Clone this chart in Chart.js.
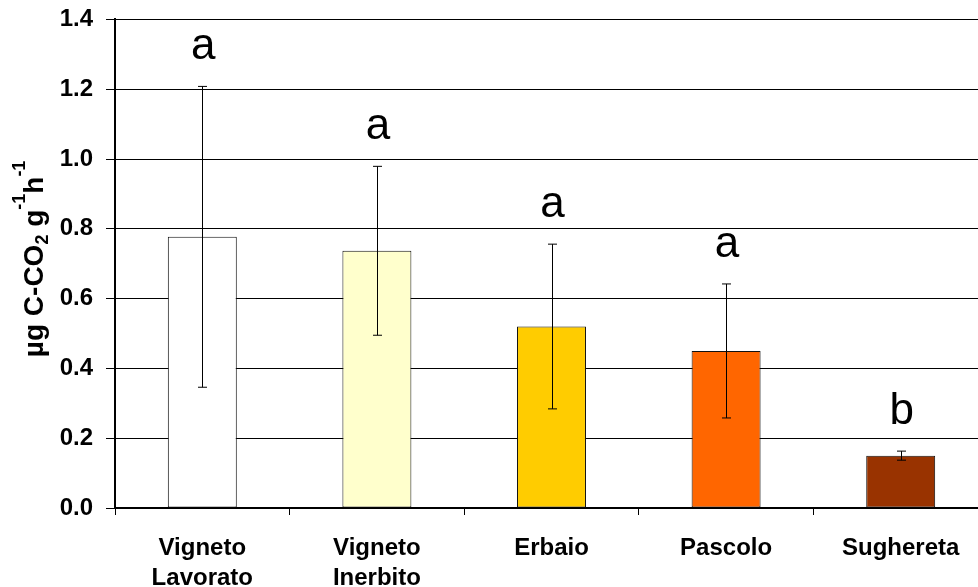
<!DOCTYPE html>
<html>
<head>
<meta charset="utf-8">
<script src="https://cdn.jsdelivr.net/npm/chart.js@4/dist/chart.umd.min.js"></script>
<style>
  html, body { margin: 0; padding: 0; background: #fff; overflow: hidden; }
  #wrap { width: 990px; height: 595px; margin-top: -8px; }
</style>
</head>
<body>
<div id="wrap"><canvas id="c" width="990" height="595"></canvas></div>
<script>
// Soil respiration by land use
const categories = [['Vigneto', 'Lavorato'], ['Vigneto', 'Inerbito'], 'Erbaio', 'Pascolo', 'Sughereta'];
const respiration = [0.777, 0.737, 0.52, 0.45, 0.15];
const stdError = [0.431, 0.242, 0.236, 0.192, 0.013];
const groupLetters = ['a', 'a', 'a', 'a', 'b'];
const yTicks = [0, 0.2, 0.4, 0.6, 0.8, 1.0, 1.2, 1.4];
const barColors = ['#FFFFFF', '#FFFFCC', '#FFCC00', '#FF6600', '#993300'];

const FONT = "'Liberation Sans', Arial, sans-serif";

// error bars and significance letters
const annotations = {
  id: 'annotations',
  afterDatasetsDraw(chart) {
    const ctx = chart.ctx;
    const meta = chart.getDatasetMeta(0);
    const y = chart.scales.y;
    ctx.save();
    ctx.strokeStyle = '#000';
    ctx.lineWidth = 1;
    meta.data.forEach((bar, i) => {
      const x = Math.round(bar.x) + 0.5;
      const top = y.getPixelForValue(respiration[i] + stdError[i]);
      const bot = y.getPixelForValue(respiration[i] - stdError[i]);
      ctx.beginPath();
      ctx.moveTo(x, top); ctx.lineTo(x, bot);
      ctx.moveTo(x - 4.5, top); ctx.lineTo(x + 4.5, top);
      ctx.moveTo(x - 4.5, bot); ctx.lineTo(x + 4.5, bot);
      ctx.stroke();
      ctx.fillStyle = '#000';
      ctx.font = '44px ' + FONT;
      ctx.textAlign = 'center';
      ctx.textBaseline = 'alphabetic';
      ctx.fillText(groupLetters[i], bar.x + 1, top - 27);
    });
    ctx.restore();
  }
};

// rotated y-axis title with sub/superscripts
const yTitle = {
  id: 'yTitle',
  afterDraw(chart) {
    const ctx = chart.ctx;
    const parts = [
      { t: 'µg C-CO', s: 28, dy: 0 },
      { t: '2', s: 18, dy: 5 },
      { t: ' g', s: 28, dy: 0 },
      { t: '-1', s: 18, dy: -18 },
      { t: 'h', s: 28, dy: 0 },
      { t: '-1', s: 18, dy: -18 }
    ];
    ctx.save();
    let total = 0;
    parts.forEach(p => { ctx.font = 'bold ' + p.s + 'px ' + FONT; p.w = ctx.measureText(p.t).width; total += p.w; });
    ctx.translate(43, chart.chartArea.top + 239.5);
    ctx.rotate(-Math.PI / 2);
    ctx.fillStyle = '#000';
    ctx.textBaseline = 'alphabetic';
    ctx.textAlign = 'left';
    let x = -total / 2;
    parts.forEach(p => {
      ctx.font = 'bold ' + p.s + 'px ' + FONT;
      ctx.fillText(p.t, x, p.dy);
      x += p.w;
    });
    ctx.restore();
  }
};

new Chart(document.getElementById('c'), {
  type: 'bar',
  data: {
    labels: categories,
    datasets: [{
      data: respiration,
      backgroundColor: barColors,
      borderColor: '#111',
      borderWidth: 1,
      borderSkipped: false,
      barPercentage: 0.395,
      categoryPercentage: 1
    }]
  },
  options: {
    responsive: false,
    devicePixelRatio: 1,
    animation: false,
    layout: { padding: { left: 0, top: 11, right: 2, bottom: 0 } },
    plugins: { legend: { display: false }, tooltip: { enabled: false } },
    scales: {
      x: {
        offset: true,
        grid: { display: true, drawOnChartArea: false, offset: true, color: '#000', tickLength: 7, lineWidth: 1 },
        border: { color: '#000', width: 2 },
        ticks: {
          color: '#000',
          padding: 18,
          maxRotation: 0,
          autoSkip: false,
          font: { family: FONT, size: 24, weight: 'bold', lineHeight: 1.25 }
        },
        afterFit(s) { s.height = 79; }
      },
      y: {
        min: 0,
        max: 1.4,
        afterBuildTicks(s) { s.ticks = yTicks.map(v => ({ value: v })); },
        grid: { color: '#000', lineWidth: 1, tickLength: 9 },
        border: { color: '#000', width: 2 },
        ticks: {
          color: '#000',
          padding: 13,
          font: { family: FONT, size: 24, weight: 'bold' },
          callback: v => Number(v).toFixed(1)
        },
        afterFit(s) { s.width = 115; }
      }
    }
  },
  plugins: [annotations, yTitle]
});
</script>
</body>
</html>
